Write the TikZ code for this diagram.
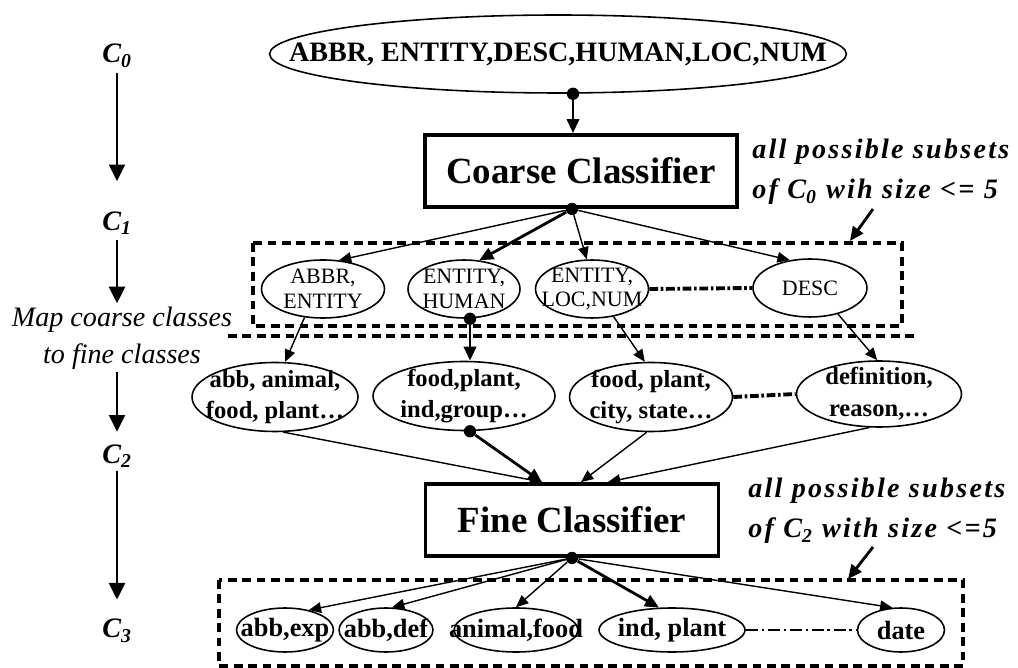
\documentclass[tikz,border=0pt]{standalone}
\usepackage{fontspec}
\setmainfont{Liberation Serif}
\usetikzlibrary{shapes.geometric,arrows.meta}

\begin{document}
\begin{tikzpicture}[%
  x=0.02cm, y=-0.02cm,
  stage/.style={inner sep=0pt, font=\fontsize{16}{18}\selectfont\bfseries\itshape},
  note/.style={inner sep=0pt, font=\fontsize{16}{18}\selectfont\itshape},
  hint/.style={inner sep=0pt, anchor=west, align=left,
    font=\fontsize{16}{23}\selectfont\bfseries\itshape\addfontfeatures{LetterSpace=8}},
  classifier/.style={draw, line width=2.2pt, inner sep=0pt,
    font=\fontsize{21}{24}\selectfont\bfseries},
  subset/.style={ellipse, draw, line width=0.9pt, inner xsep=-60pt, inner ysep=-30pt, align=center},
  coarse set/.style={subset, minimum height=1.16cm, font=\fontsize{12.5}{14}\selectfont},
  fine set/.style={subset, minimum height=1.38cm, font=\fontsize{14}{18}\selectfont\bfseries},
  leaf/.style={subset, minimum height=0.88cm, font=\fontsize{15}{16}\selectfont\bfseries},
  dot/.style={circle, fill, inner sep=0pt, minimum size=7pt},
  link/.style={line width=0.8pt, -{Triangle[length=7pt,width=6pt]}},
  heavy/.style={line width=1.6pt, -{Triangle[length=8pt,width=7pt]}},
  flow/.style={line width=1.7pt, -{Triangle[length=9.5pt,width=9pt]}},
  frame/.style={line width=2.3pt, dash pattern=on 5pt off 3.2pt},
  etc/.style={line width=2.2pt, dash pattern=on 5pt off 1.5pt on 1.5pt off 1.5pt}]

  \useasboundingbox (0,0) rectangle (1018,668);

  % levels on the left
  \node[stage] (c0) at (117,56) {C\textsubscript{0}};
  \node[stage] (c1) at (117,223) {C\textsubscript{1}};
  \node[note] (map1) at (122,320) {Map coarse classes};
  \node[note] (map2) at (122,357) {to fine classes};
  \node[stage] (c2) at (117,456) {C\textsubscript{2}};
  \node[stage] (c3) at (117,631) {C\textsubscript{3}};
  \draw[flow, shorten <=3pt, shorten >=17pt] (c0) -- (c1);
  \draw[flow, shorten <=3pt, shorten >=2pt] (c1) -- (c1 |- map1.north);
  \draw[flow, shorten <=1pt, shorten >=7pt] (c2 |- map2.south) -- (c2);
  \draw[flow, shorten <=2pt, shorten >=11pt] (c2) -- (c3);

  % coarse stage
  \node[subset, minimum width=11.54cm, minimum height=1.56cm,
    font=\fontsize{16}{18}\selectfont\bfseries] (all) at (558,54) {ABBR, ENTITY,DESC,HUMAN,LOC,NUM};
  \node[classifier, minimum width=6.24cm, minimum height=1.44cm] (coarse) at (581,171) {Coarse Classifier};
  \node[dot] (d0) at ([xshift=0.3cm]all.south) {};
  \draw[heavy] (d0) -- (d0 |- coarse.north);
  \node[dot] (d1) at ([xshift=-0.18cm]coarse.south) {};

  \node[hint] (hint1) at (752,172) {all possible subsets\\of C\textsubscript{0} wih size <= 5};
  \coordinate (h1s) at (873,209);
  \coordinate (h1e) at (850,241);
  \draw[heavy] (h1s) -- (h1e);

  \draw[frame] (253,243) rectangle (902,326);
  \draw[frame] (228,336) -- (917,336);

  \node[coarse set, minimum width=2.46cm] (abbr) at (323,289) {ABBR,\\ENTITY};
  \node[coarse set, minimum width=2.24cm] (enthum) at (464,289) {ENTITY,\\HUMAN};
  \node[coarse set, minimum width=2.26cm] (entloc) at (592,289) {ENTITY,\\LOC,NUM};
  \node[coarse set, minimum width=2.28cm] (desc) at (810,288) {DESC};
  \draw[etc] (entloc.east) -- (desc.west);

  \draw[link] (d1) -- (abbr.61);
  \draw[heavy] (d1) -- (enthum.62);
  \draw[link] (d1) -- (entloc.100);
  \draw[link] (d1) -- (desc.126);

  % fine stage
  \node[fine set, minimum width=3.32cm] (abbfood) at (275,397) {abb, animal,\\food, plant\ldots};
  \node[fine set, minimum width=3.64cm] (foodind) at (464,396) {food,plant,\\ind,group\ldots};
  \node[fine set, minimum width=3.26cm] (foodcity) at (651,397) {food, plant,\\city, state\ldots};
  \node[fine set, minimum width=3.3cm, minimum height=1.32cm] (defreason) at (879,394) {definition,\\reason,\ldots};
  \draw[etc] (foodcity.east) -- (defreason.west);

  \node[dot] (d2) at ([xshift=0.12cm]enthum.south) {};
  \draw[link] (abbr.237) -- (abbfood.74);
  \draw[heavy] (d2) -- (d2 |- foodind.north);
  \draw[link] (entloc.-52) -- (foodcity.100);
  \draw[link] (desc.-43) -- (defreason.93);

  \node[classifier, minimum width=5.86cm, minimum height=1.44cm] (fine) at (572,520) {Fine Classifier};
  \node[dot] (d3) at ([xshift=0.12cm]foodind.south) {};
  \draw[link] (abbfood.-77) -- ([xshift=-0.6cm]fine.north);
  \draw[heavy] (d3) -- ([xshift=-0.6cm]fine.north);
  \draw[link] (foodcity.-97) -- ([xshift=0.18cm]fine.north);
  \draw[link] (defreason.-106) -- ([xshift=0.72cm]fine.north);
  \node[dot] (d4) at (fine.south) {};

  \node[hint] (hint2) at (748,511) {all possible subsets\\of C\textsubscript{2} with size <=5};
  \coordinate (h2s) at (873,547);
  \coordinate (h2e) at (848,579);
  \draw[heavy] (h2s) -- (h2e);

  \draw[frame] (219,580) rectangle (963,666);

  \node[leaf, minimum width=1.94cm] (abbexp) at (285,630) {abb,exp};
  \node[leaf, minimum width=1.88cm] (abbdef) at (386,630) {abb,def};
  \node[leaf, minimum width=2.48cm] (animal) at (516,630) {animal,food};
  \node[leaf, minimum width=2.92cm] (indplant) at (672,630) {ind, plant};
  \node[leaf, minimum width=1.74cm] (date) at (901,630) {date};
  \draw[etc, line width=1.4pt, dash pattern=on 7pt off 2pt on 1.5pt off 2pt] (indplant.east) -- (date.west);

  \draw[link] (d4) -- (abbexp.40);
  \draw[link] (d4) -- (abbdef.75);
  \draw[link] (d4) -- (animal.north);
  \draw[heavy] (d4) -- (indplant.120);
  \draw[link] (d4) -- (date.111);
\end{tikzpicture}
\end{document}
